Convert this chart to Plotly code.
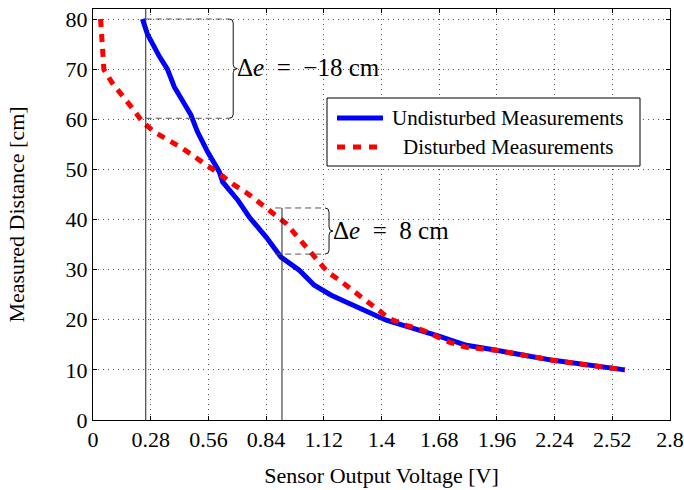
import plotly.graph_objects as go

# Sensor characteristic: output voltage [V] vs. measured distance [cm]
undisturbed_v = [0.240, 0.264, 0.321, 0.361, 0.394, 0.434, 0.475, 0.507, 0.556, 0.613,
                 0.629, 0.702, 0.758, 0.840, 0.912, 1.001, 1.074, 1.156, 1.293, 1.423,
                 1.682, 1.812, 1.958, 2.233, 2.581]
undisturbed_d = [80.0, 77.0, 72.6, 70.0, 66.5, 63.5, 60.9, 57.5, 53.5, 49.5,
                 47.5, 43.9, 40.5, 36.5, 32.5, 29.9, 26.9, 24.9, 22.2, 19.9,
                 16.7, 14.9, 13.9, 11.9, 10.0]

disturbed_v = [0.037, 0.045, 0.053, 0.094, 0.142, 0.191, 0.240, 0.297, 0.434, 0.499,
               0.564, 0.621, 0.685, 0.750, 0.815, 0.880, 0.937, 0.985, 1.083, 1.139,
               1.196, 1.261, 1.326, 1.382, 1.439, 1.520, 1.601, 1.731, 1.812, 1.885,
               1.958, 2.233, 2.581]
disturbed_d = [80.0, 72.9, 69.9, 67.2, 64.9, 62.2, 59.5, 57.5, 54.2, 52.2,
               50.5, 48.9, 46.9, 45.2, 43.2, 41.2, 39.2, 36.9, 32.2, 29.5,
               27.9, 25.9, 23.9, 21.9, 20.2, 18.9, 17.9, 15.5, 14.5, 14.2,
               13.9, 11.9, 10.0]

x_ticks = [0, 0.28, 0.56, 0.84, 1.12, 1.4, 1.68, 1.96, 2.24, 2.52, 2.8]
x_tick_text = ["0", "0.28", "0.56", "0.84", "1.12", "1.4", "1.68", "1.96", "2.24", "2.52", "2.8"]
y_ticks = [0, 10, 20, 30, 40, 50, 60, 70, 80]
y_tick_text = ["0", "10", "20", "30", "40", "50", "60", "70", "80"]

series_names = ["Undisturbed Measurements", "Disturbed Measurements"]
series_colors = ["#0000ff", "#ff0000"]
series_dash = ["solid", "8px,7px"]

# Error call-outs: voltage of the marker line, box span, right end of box, label
err_v = [0.256, 0.917]
err_left = [0.256, 0.884]
err_lo = [60.2, 33.1]
err_hi = [80.0, 42.3]
err_right = [0.661, 1.126]
NB = "\u00a0"
err_label = [f"Δ<i>e</i>{NB}{NB}={NB}{NB}−18{NB}cm", f"Δ<i>e</i>{NB}{NB}={NB}{NB}8{NB}cm"]

X_MAX, Y_MAX = 2.8, 82.0
PLOT_W, PLOT_H = 577.0, 411.0
ML, MT = 93, 9
PX_X = X_MAX / PLOT_W   # data units per pixel, x
PX_Y = Y_MAX / PLOT_H   # data units per pixel, y

FONT = "Liberation Serif"


def px_paper_x(px):
    return (px - ML) / PLOT_W


def px_paper_y(py):
    return 1 - (py - MT) / PLOT_H


fig = go.Figure()
fig.add_trace(go.Scatter(
    x=undisturbed_v, y=undisturbed_d, mode="lines", name=series_names[0],
    line=dict(color=series_colors[0], width=5, dash=series_dash[0]),
))
fig.add_trace(go.Scatter(
    x=disturbed_v, y=disturbed_d, mode="lines", name=series_names[1],
    line=dict(color=series_colors[1], width=5, dash=series_dash[1]),
))

shapes = []
annotations = []


def brace_path(xr, lo, hi):
    w = 4.0 * PX_X
    r = 4.0 * PX_Y
    mid = (lo + hi) / 2
    return (f"M {xr},{hi} Q {xr + w},{hi} {xr + w},{hi - r} "
            f"L {xr + w},{mid + r} Q {xr + w},{mid} {xr + 2 * w},{mid} "
            f"Q {xr + w},{mid} {xr + w},{mid - r} "
            f"L {xr + w},{lo + r} Q {xr + w},{lo} {xr},{lo}")


for i in range(len(err_v)):
    top = Y_MAX if i == 0 else err_hi[i]
    shapes.append(dict(type="line", xref="x", yref="y", x0=err_v[i], x1=err_v[i],
                       y0=0, y1=top, line=dict(color="#222222", width=1)))
    for yy in (err_lo[i], err_hi[i]):
        shapes.append(dict(type="line", xref="x", yref="y", x0=err_left[i], x1=err_right[i],
                           y0=yy, y1=yy, line=dict(color="#555555", width=1, dash="6px,4px")))
    shapes.append(dict(type="path", xref="x", yref="y",
                       path=brace_path(err_right[i], err_lo[i], err_hi[i]),
                       line=dict(color="#111111", width=1)))
    annotations.append(dict(x=err_right[i] + 8 * PX_X, y=(err_lo[i] + err_hi[i]) / 2,
                            xref="x", yref="y", text=err_label[i], showarrow=False,
                            xanchor="left", yanchor="middle", xshift=-2, yshift=1,
                            font=dict(family=FONT, size=25, color="black")))

# Legend box with line samples and centred entry labels
LEG_X0, LEG_X1, LEG_Y0, LEG_Y1 = 327, 640, 98, 166
LEG_ROWS = [118, 147]
shapes.append(dict(type="rect", xref="paper", yref="paper",
                   x0=px_paper_x(LEG_X0), x1=px_paper_x(LEG_X1),
                   y0=px_paper_y(LEG_Y1), y1=px_paper_y(LEG_Y0),
                   line=dict(color="black", width=1), fillcolor="white", layer="above"))
for name, color, dash, row in zip(series_names, series_colors, series_dash, LEG_ROWS):
    shapes.append(dict(type="line", xref="paper", yref="paper",
                       x0=px_paper_x(337), x1=px_paper_x(383),
                       y0=px_paper_y(row), y1=px_paper_y(row),
                       line=dict(color=color, width=5,
                                 dash="8px,8px" if dash != "solid" else "solid"),
                       layer="above"))
    annotations.append(dict(x=px_paper_x(508), y=px_paper_y(row), xref="paper", yref="paper",
                            text=name, showarrow=False, xanchor="center", yanchor="middle",
                            font=dict(family=FONT, size=21, color="black")))

axis_common = dict(
    showline=True, linecolor="black", linewidth=1, mirror="ticks",
    ticks="inside", ticklen=4, tickcolor="black",
    showgrid=True, gridcolor="#555555", gridwidth=1, griddash="1px,4px",
    zeroline=False, automargin=False,
    tickfont=dict(family=FONT, size=22, color="black"),
)

fig.update_layout(
    width=684, height=490,
    margin=dict(l=ML, r=684 - ML - int(PLOT_W), t=MT, b=490 - MT - int(PLOT_H)),
    paper_bgcolor="white", plot_bgcolor="white",
    showlegend=False,
    xaxis=dict(range=[0, X_MAX], tickvals=x_ticks, ticktext=x_tick_text,
               title=dict(text="Sensor Output Voltage [V]", standoff=16,
                          font=dict(family=FONT, size=22, color="black")),
               **axis_common),
    yaxis=dict(range=[0, Y_MAX], tickvals=y_ticks, ticktext=y_tick_text,
               title=dict(text="Measured Distance [cm]", standoff=34,
                          font=dict(family=FONT, size=22, color="black")),
               **axis_common),
    shapes=shapes,
    annotations=annotations,
)

fig.write_html("out.html")
